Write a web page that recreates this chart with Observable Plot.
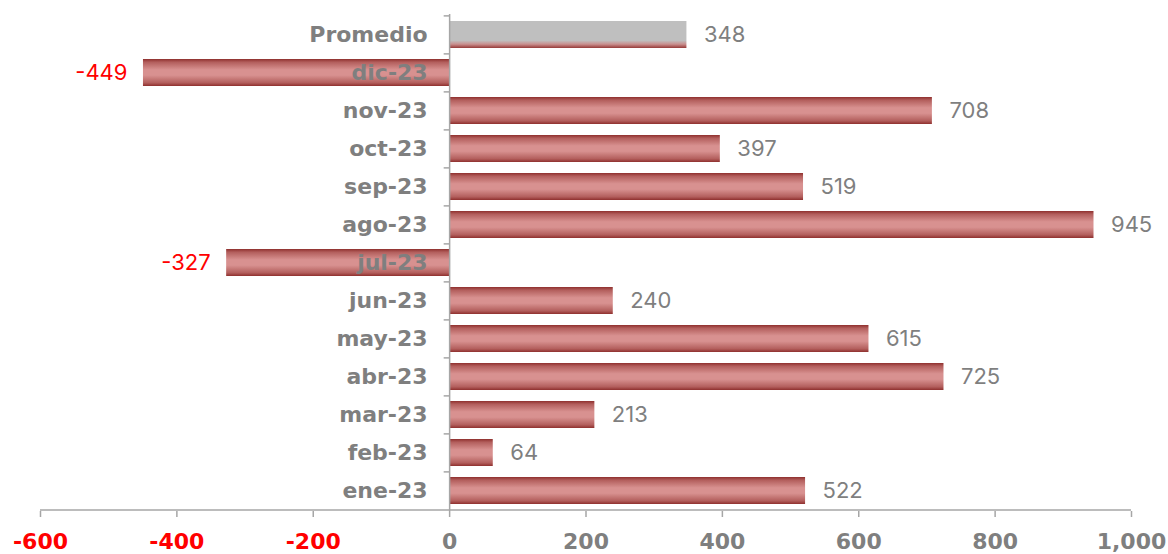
<!DOCTYPE html>
<html>
<head>
<meta charset="utf-8">
<script src="https://cdn.jsdelivr.net/npm/d3@7"></script>
<script src="https://cdn.jsdelivr.net/npm/@observablehq/plot@0.6"></script>
<style>
  html, body { margin: 0; padding: 0; background: #ffffff; }
  #chart svg { display: block; }
</style>
</head>
<body>
<div id="chart"></div>
<script>
const categories = ["Promedio","dic-23","nov-23","oct-23","sep-23","ago-23","jul-23","jun-23","may-23","abr-23","mar-23","feb-23","ene-23"];
const values = [348, -449, 708, 397, 519, 945, -327, 240, 615, 725, 213, 64, 522];
const xTicks = [-600, -400, -200, 0, 200, 400, 600, 800, 1000];

const data = categories.map((c, i) => ({cat: c, value: values[i]}));
const months = data.filter(d => d.cat !== "Promedio");
const avg = data.filter(d => d.cat === "Promedio");

const W = 1168, H = 554, MT = 14, MB = 43, ML = 40, MR = 37;
const step = (H - MT - MB) / categories.length;
const axisGray = "#a6a6a6";
const textGray = "#7f7f7f";
const fontBold = "'DejaVu Sans', sans-serif";
const fontReg = "Inter, 'Open Sans', sans-serif";
const fmt = d => (d < 0 ? "-" : "") + d3.format(",")(Math.abs(d));

const chart = Plot.plot({
  width: W, height: H,
  marginTop: MT, marginBottom: MB, marginLeft: ML, marginRight: MR,
  style: {fontFamily: fontBold, background: "#ffffff"},
  x: {domain: [-600, 1000]},
  y: {domain: categories, paddingInner: 0.3, paddingOuter: 0.15, axis: null},
  marks: [
    Plot.barX(months, {x: "value", y: "cat", fill: "url(#gradRed)"}),
    Plot.barX(avg, {x: "value", y: "cat", fill: "url(#gradAvg)"}),
    Plot.ruleX([0], {stroke: axisGray, strokeWidth: 1.5}),
    Plot.ruleY(categories, {y: d => d, x1: -8, x2: 0, dy: -step / 2, stroke: axisGray, strokeWidth: 1.5}),
    Plot.ruleY(["ene-23"], {y: d => d, x1: -600, x2: 1000, dy: step / 2, stroke: axisGray, strokeWidth: 1.5}),
    Plot.axisX(xTicks.filter(t => t < 0), {tickSize: 6, stroke: axisGray, strokeWidth: 1.5, fill: "#ff0000", fontSize: 22, fontWeight: 700, fontFamily: fontBold, tickPadding: 16, tickFormat: fmt, label: null}),
    Plot.axisX(xTicks.filter(t => t >= 0), {tickSize: 6, stroke: axisGray, strokeWidth: 1.5, fill: textGray, fontSize: 22, fontWeight: 700, fontFamily: fontBold, tickPadding: 16, tickFormat: fmt, label: null}),
    Plot.text(data, {x: 0, y: "cat", text: "cat", textAnchor: "end", dx: -22, fill: textGray, fontSize: 22, fontWeight: 700, fontFamily: fontBold}),
    Plot.text(data.filter(d => d.value >= 0), {x: "value", y: "cat", text: d => fmt(d.value), textAnchor: "start", dx: 17, fill: textGray, fontSize: 22, fontWeight: 400, fontFamily: fontReg}),
    Plot.text(data.filter(d => d.value < 0), {x: "value", y: "cat", text: d => fmt(d.value), textAnchor: "end", dx: -16, fill: "#ff0000", fontSize: 22, fontWeight: 400, fontFamily: fontReg})
  ]
});

const ns = "http://www.w3.org/2000/svg";
const defs = document.createElementNS(ns, "defs");
function grad(id, stops) {
  const g = document.createElementNS(ns, "linearGradient");
  g.setAttribute("id", id);
  g.setAttribute("x1", "0"); g.setAttribute("y1", "0");
  g.setAttribute("x2", "0"); g.setAttribute("y2", "1");
  for (const [o, c] of stops) {
    const s = document.createElementNS(ns, "stop");
    s.setAttribute("offset", o);
    s.setAttribute("stop-color", c);
    g.appendChild(s);
  }
  defs.appendChild(g);
}
grad("gradRed", [[0, "#8f302e"], [0.12, "#b35f5d"], [0.4, "#d89190"], [0.6, "#d89190"], [0.88, "#b35f5d"], [1, "#8f302e"]]);
grad("gradAvg", [[0, "#bfbfbf"], [0.72, "#bfbfbf"], [0.86, "#c98f8e"], [1, "#963a38"]]);
chart.insertBefore(defs, chart.firstChild);

document.getElementById("chart").appendChild(chart);
</script>
</body>
</html>
